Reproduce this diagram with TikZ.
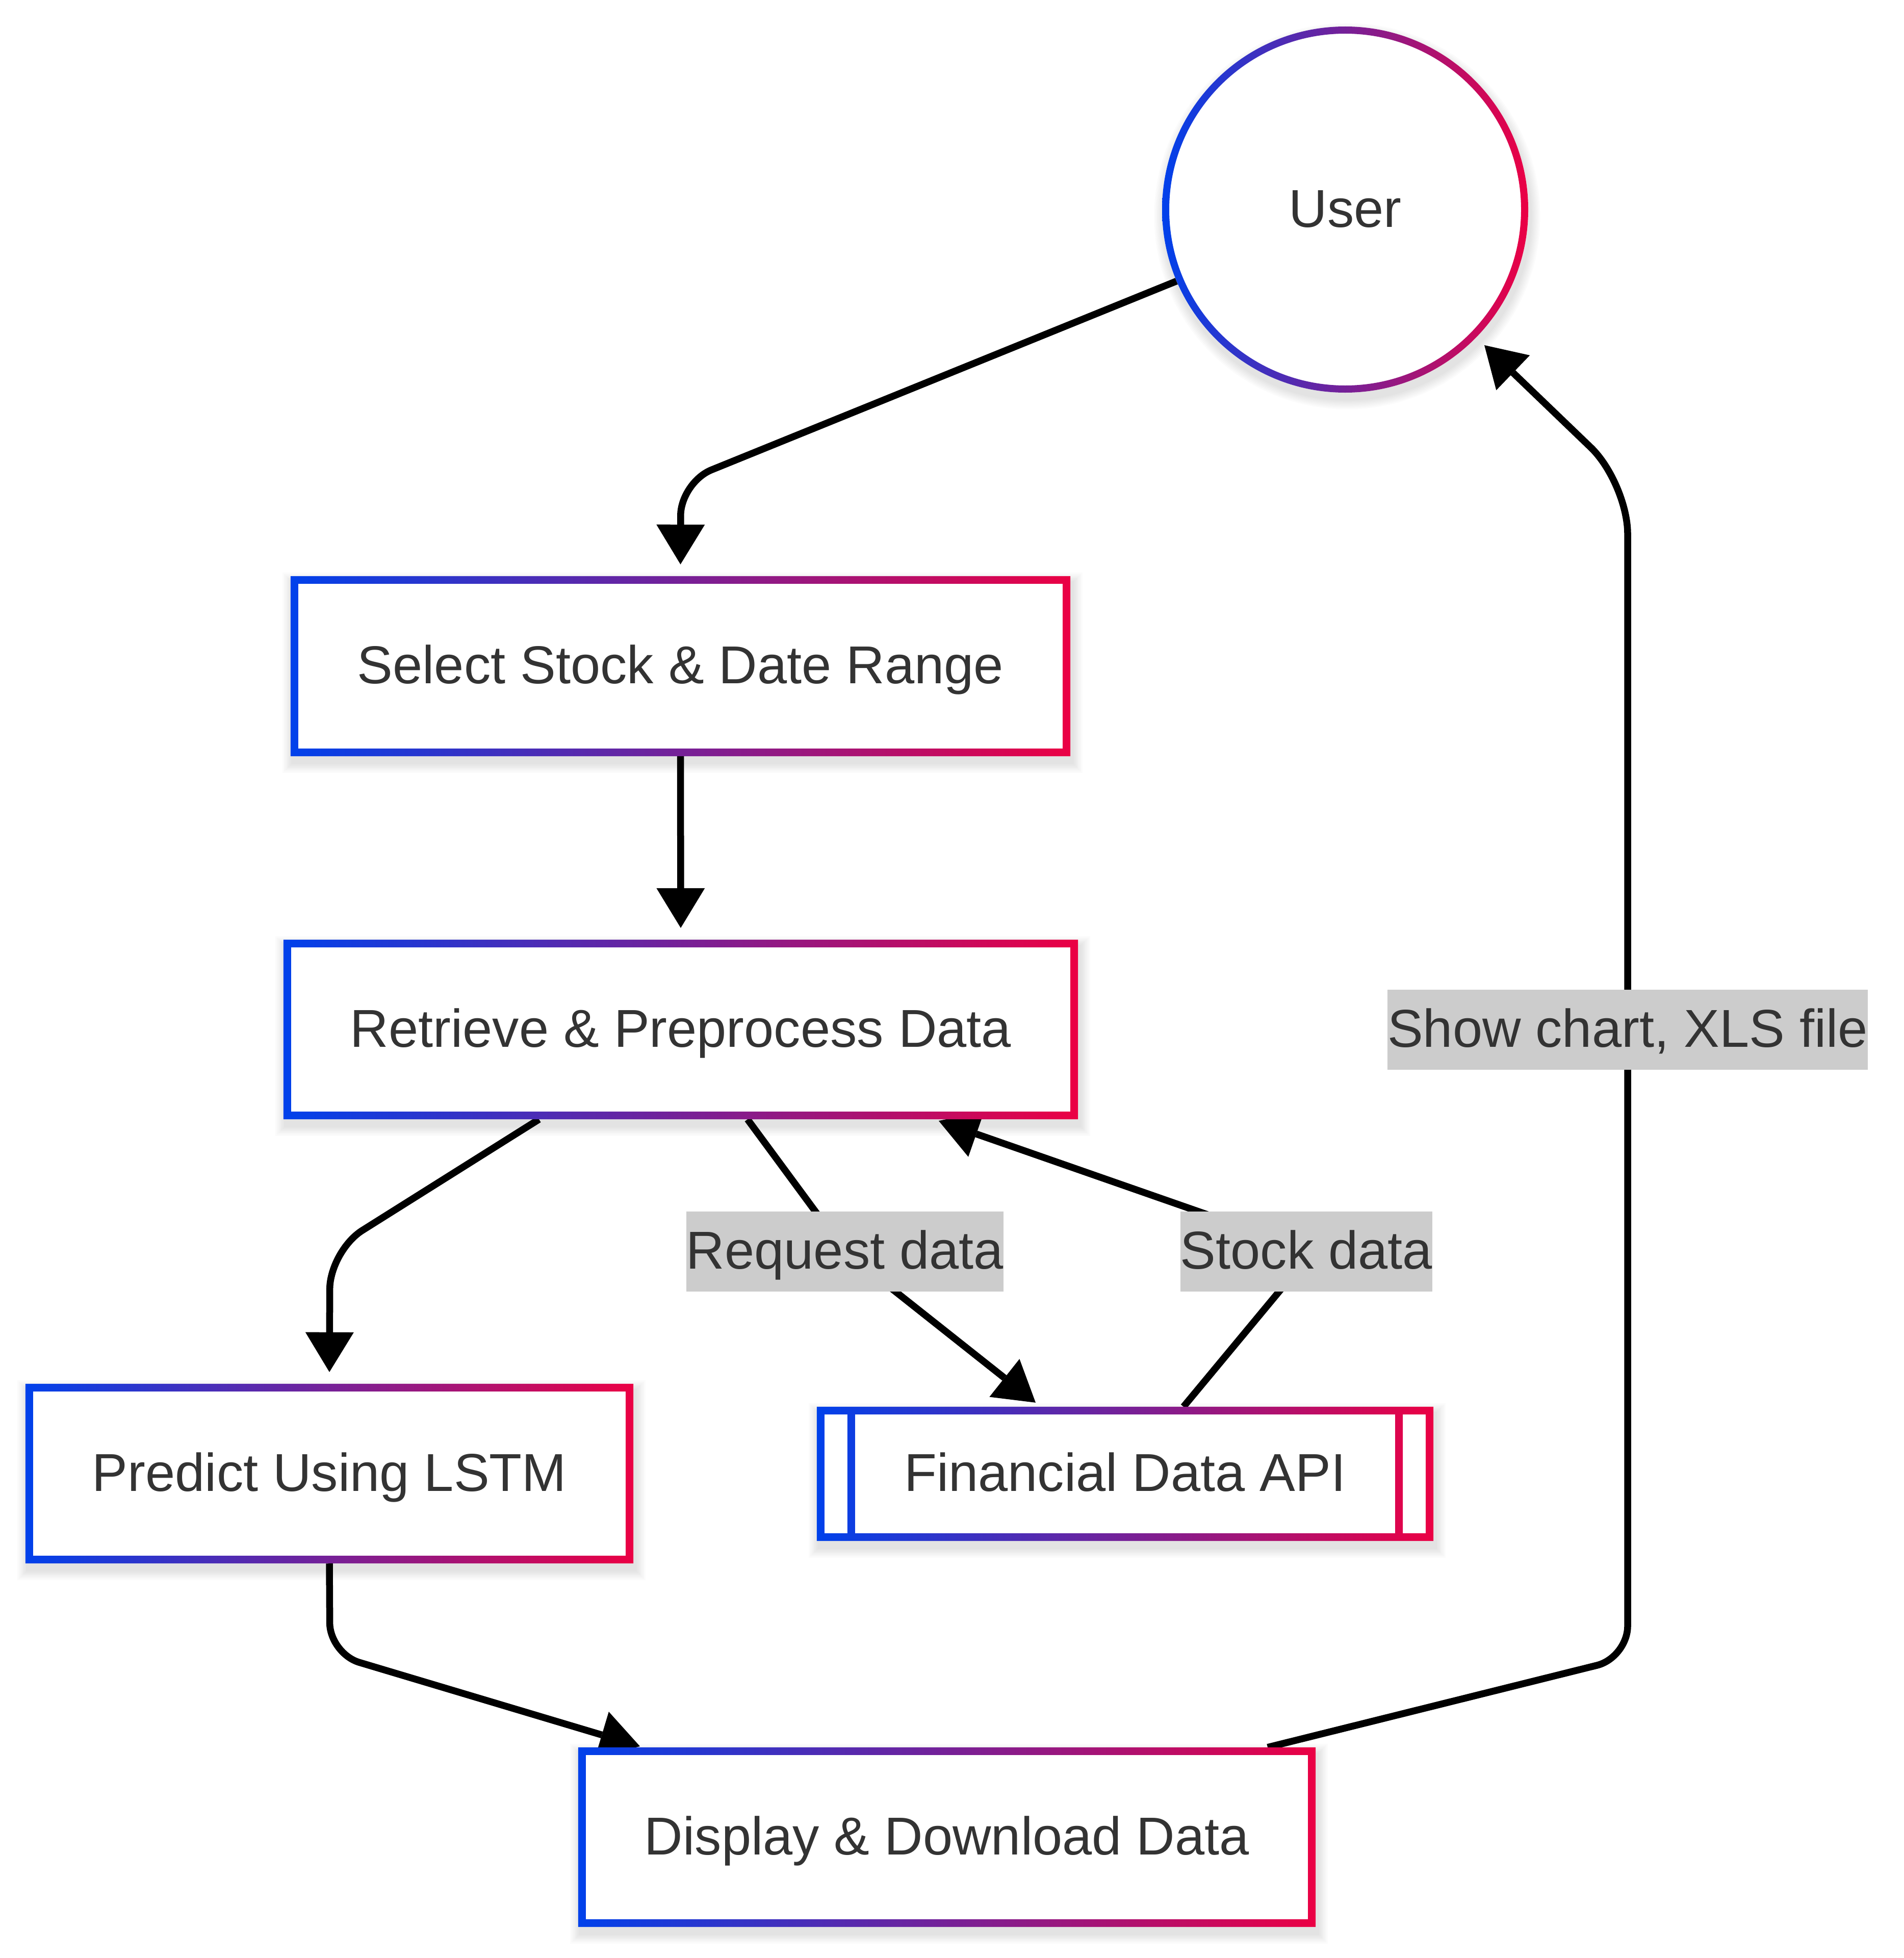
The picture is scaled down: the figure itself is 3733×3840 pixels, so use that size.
\documentclass[tikz,border=0pt]{standalone}
\usepackage{fontspec}
\setmainfont{Liberation Sans}
\usetikzlibrary{arrows.meta}
\definecolor{txt}{HTML}{333333}
\definecolor{lblbg}{HTML}{CCCCCC}
\definecolor{gblue}{RGB}{0,65,235}
\definecolor{gred}{RGB}{235,0,68}
\pgfdeclarelayer{bglayer}
\pgfdeclarelayer{edgelayer}
\pgfdeclarelayer{shapelayer}
\pgfsetlayers{bglayer,edgelayer,shapelayer,main}
\newcommand{\bigfont}{\fontsize{104.6pt}{125pt}\selectfont}
\tikzset{
  boxn/.style={rectangle, inner sep=0pt, text=txt, font=\bigfont, text height=90pt, text depth=22pt},
  lbl/.style={rectangle, inner xsep=0pt, inner ysep=0pt, minimum height=157pt, fill=lblbg, text=txt, font=\bigfont, text height=90pt, text depth=22pt},
  gframe/.style={left color=gblue, right color=gred, even odd rule},
  edgeline/.style={line width=13.5pt, draw=black},
  edge/.style={edgeline, -{Triangle[length=78pt,width=95pt,line width=0pt]}},
  shadowfill/.style={fill=black, opacity=0.016}
}
\newcommand{\boxshadow}[1]{%
  \foreach \k in {1,...,7}{%
    \fill[shadowfill] ([shift={(-\k*2.8pt+4pt,-\k*2.8pt-13pt)}]#1.south west) rectangle ([shift={(\k*2.8pt+4pt,\k*2.8pt-13pt)}]#1.north east);}%
  \fill[white] (#1.south west) rectangle (#1.north east);}
\newcommand{\gradbox}[1]{%
  \boxshadow{#1}%
  \shade[gframe] (#1.south west) rectangle (#1.north east) ([shift={(15pt,15pt)}]#1.south west) rectangle ([shift={(-15pt,-15pt)}]#1.north east);}
\begin{document}
\begin{tikzpicture}[x=1pt,y=-1pt]
\useasboundingbox (0,0) rectangle (3733,3840);
\begin{pgfonlayer}{bglayer}
  \fill[white] (0,0) rectangle (3733,3840);
\end{pgfonlayer}

% nodes
\node[boxn, circle, minimum size=718pt] (user) at (2638,411) {User};
\node[boxn, minimum width=1529pt, minimum height=353pt] (sel) at (1334.5,1306.5) {Select Stock \& Date Range};
\node[boxn, minimum width=1558pt, minimum height=352pt] (ret) at (1335,2019) {Retrieve \& Preprocess Data};
\node[boxn, minimum width=1192pt, minimum height=352pt] (pred) at (646,2890) {Predict Using LSTM};
\node[boxn, minimum width=1209pt, minimum height=263pt] (fin) at (2206.5,2890.5) {Financial Data API};
\node[boxn, minimum width=1446pt, minimum height=352pt] (disp) at (1857,3603) {Display \& Download Data};

% edge labels
\node[lbl] (lreq) at (1657,2454.5) {Request data};
\node[lbl] (lstk) at (2562,2454) {Stock data};
\node[lbl] (lshow) at (3192,2019.5) {Show chart, XLS file};

% shapes
\begin{pgfonlayer}{shapelayer}
  \foreach \k in {1,...,7}{%
    \fill[shadowfill] ([shift={(4pt,-13pt)}]user.center) circle ({359pt+\k*2.8pt});}
  \fill[white] (user.center) circle (359pt);
  \shade[gframe] (user.center) circle (359pt) (user.center) circle (345pt);
  \gradbox{sel}
  \gradbox{ret}
  \gradbox{pred}
  \gradbox{disp}
  \boxshadow{fin}
  \shade[gframe] (fin.south west) rectangle (fin.north east)
    ([shift={(15pt,15pt)}]fin.south west) rectangle ([shift={(-15pt,-15pt)}]fin.north east)
    ([shift={(60pt,15pt)}]fin.south west) rectangle ([shift={(75pt,-15pt)}]fin.north west)
    ([shift={(-75pt,15pt)}]fin.south east) rectangle ([shift={(-60pt,-15pt)}]fin.north east);
\end{pgfonlayer}

% edges
\begin{pgfonlayer}{edgelayer}
  \draw[edge, rounded corners=65pt] (user.203) -- (1335,946) -- ([yshift=23pt]sel.north);
  \draw[edge] (sel.south) -- ([yshift=23pt]ret.north);
  \draw[edge, rounded corners=75pt] ([xshift=-278pt]ret.south) -- (647,2453) -- ([yshift=23pt]pred.north);
  \draw[edge] ([xshift=131pt]ret.south) -- (lreq.center) -- ([xshift=-175.5pt,yshift=8pt]fin.north);
  \draw[edge] ([xshift=114.5pt]fin.north) -- ([xshift=12pt]lstk.center) -- ([xshift=506pt,yshift=-3pt]ret.south);
  \draw[edge, rounded corners=60pt] (pred.south) -- (647,3243) -- ([xshift=-602pt,yshift=2pt]disp.north);
  \draw[edgeline, rounded corners=62pt] ([xshift=629pt]disp.north) -- (3192,3251) -- (lshow.center);
  \draw[edge, rounded corners=100pt] (lshow.center) -- (3192,947) -- ([xshift=273pt,yshift=-266pt]user.center);
\end{pgfonlayer}
\end{tikzpicture}
\end{document}
